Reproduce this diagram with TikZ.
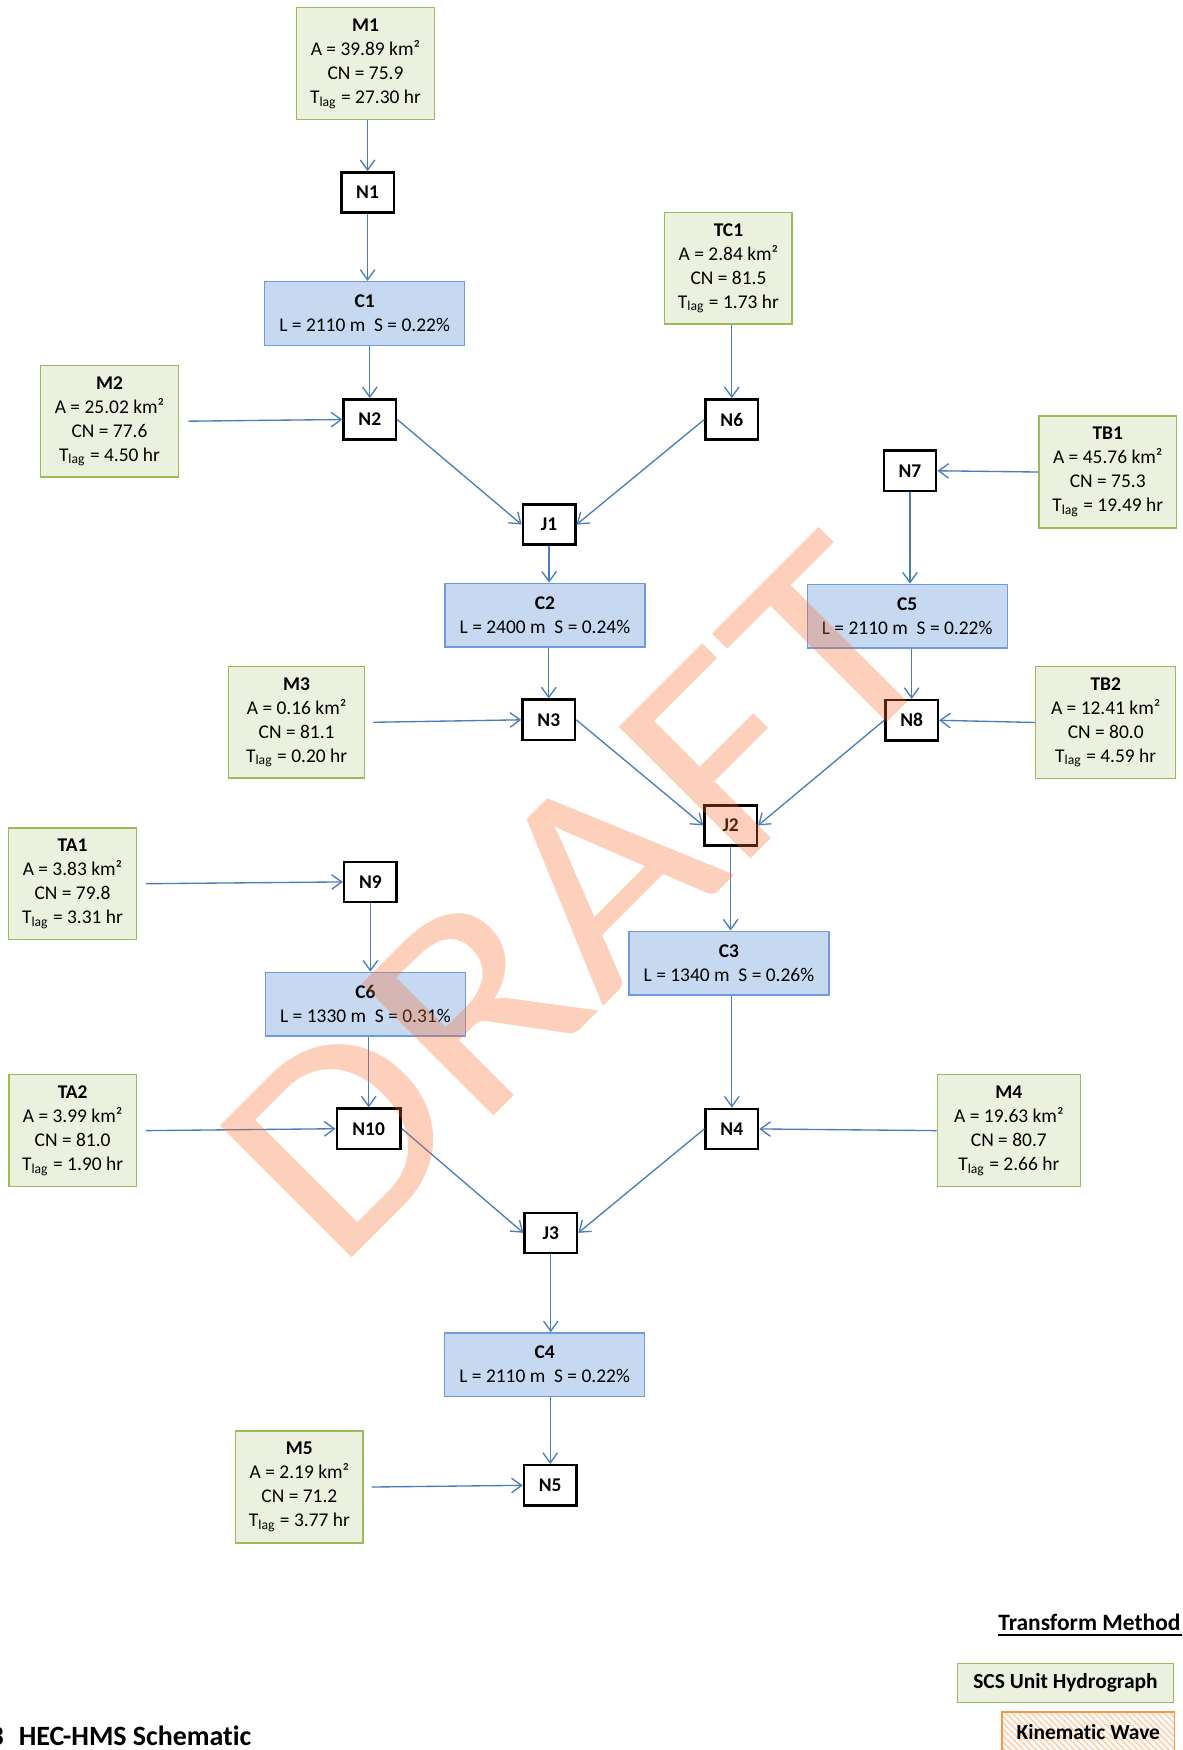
\documentclass[tikz,border=0pt]{standalone}
\usepackage{fontspec}
\setmainfont{Carlito}[Ligatures=NoCommon]
\usetikzlibrary{arrows.meta,patterns.meta,calc}
\definecolor{gfill}{HTML}{EBF1DE}
\definecolor{gdraw}{HTML}{9BBB59}
\definecolor{bfill}{HTML}{C6D9F1}
\definecolor{bdraw}{HTML}{6E9BDC}
\definecolor{flowc}{HTML}{4A7EBB}
\definecolor{kdraw}{HTML}{F79646}
\definecolor{khatch}{HTML}{FBD3B3}
\definecolor{draftc}{RGB}{248,110,48}
\newcommand{\bodyfs}{\fontsize{8.7pt}{10.75pt}\selectfont}
\tikzset{
  sub/.style={draw=gdraw, fill=gfill, line width=0.6pt, align=center, inner sep=0pt, minimum height=50pt, font=\bodyfs},
  chan/.style={draw=bdraw, fill=bfill, line width=0.6pt, align=center, inner sep=0pt, minimum width=89.5pt, minimum height=28.5pt, font=\bodyfs},
  jn/.style={draw=black, fill=white, line width=1.1pt, inner sep=0pt, minimum width=23.5pt, minimum height=18pt, font=\bodyfs\bfseries},
  flow/.style={draw=flowc, line width=0.6pt, -{Straight Barb[length=4.5pt,width=6.5pt]}},
  legendbox/.style={inner sep=0pt, minimum height=17.5pt, font=\fontsize{9.6pt}{11pt}\selectfont\bfseries},
}
\begin{document}
\begin{tikzpicture}[x=0.5pt,y=-0.5pt]
\useasboundingbox (0,0) rectangle (1058,1566.4);
\clip (0,0) rectangle (1058,1566.4);

% sub-basins
\node[sub, minimum width=61.6pt] (M1) at (327.1,57) {\textbf{M1}\\A = 39.89 km²\\CN = 75.9\\T\textsubscript{lag} = 27.30 hr};
\node[sub, minimum width=57pt] (TC1) at (652,240) {\textbf{TC1}\\A = 2.84 km²\\CN = 81.5\\T\textsubscript{lag} = 1.73 hr};
\node[sub, minimum width=62pt] (M2) at (98,377) {\textbf{M2}\\A = 25.02 km²\\CN = 77.6\\T\textsubscript{lag} = 4.50 hr};
\node[sub, minimum width=61.5pt] (TB1) at (991.5,422.5) {\textbf{TB1}\\A = 45.76 km²\\CN = 75.3\\T\textsubscript{lag} = 19.49 hr};
\node[sub, minimum width=61pt] (M3) at (265.5,646.5) {\textbf{M3}\\A = 0.16 km²\\CN = 81.1\\T\textsubscript{lag} = 0.20 hr};
\node[sub, minimum width=62.7pt] (TB2) at (989.7,646.7) {\textbf{TB2}\\A = 12.41 km²\\CN = 80.0\\T\textsubscript{lag} = 4.59 hr};
\node[sub, minimum width=57.4pt] (TA1) at (64.9,791) {\textbf{TA1}\\A = 3.83 km²\\CN = 79.8\\T\textsubscript{lag} = 3.31 hr};
\node[sub, minimum width=57pt] (TA2) at (65,1012) {\textbf{TA2}\\A = 3.99 km²\\CN = 81.0\\T\textsubscript{lag} = 1.90 hr};
\node[sub, minimum width=64pt] (M4) at (903,1012) {\textbf{M4}\\A = 19.63 km²\\CN = 80.7\\T\textsubscript{lag} = 2.66 hr};
\node[sub, minimum width=57pt] (M5) at (268,1331) {\textbf{M5}\\A = 2.19 km²\\CN = 71.2\\T\textsubscript{lag} = 3.77 hr};

% channels
\node[chan] (C1) at (326.4,280.5) {\textbf{C1}\\L = 2110 m\ \ S = 0.22\%};
\node[chan] (C2) at (487.8,550.6) {\textbf{C2}\\L = 2400 m\ \ S = 0.24\%};
\node[chan] (C5) at (812,551.5) {\textbf{C5}\\L = 2110 m\ \ S = 0.22\%};
\node[chan] (C3) at (652.5,862) {\textbf{C3}\\L = 1340 m\ \ S = 0.26\%};
\node[chan] (C6) at (327.1,898.8) {\textbf{C6}\\L = 1330 m\ \ S = 0.31\%};
\node[chan] (C4) at (487.5,1221.5) {\textbf{C4}\\L = 2110 m\ \ S = 0.22\%};

% nodes / junctions
\node[jn] (N1) at (329,172.3) {N1};
\node[jn] (N2) at (331,375.5) {N2};
\node[jn] (N6) at (655,375.5) {N6};
\node[jn] (N7) at (814.5,421.4) {N7};
\node[jn] (J1) at (491.5,469.5) {J1};
\node[jn] (N3) at (491.2,644.3) {N3};
\node[jn] (N8) at (816,644.7) {N8};
\node[jn] (J2) at (654,738.8) {J2};
\node[jn] (N9) at (331.5,789.4) {N9};
\node[jn, minimum width=28.6pt] (N10) at (330,1010.3) {N10};
\node[jn] (N4) at (655,1010.5) {N4};
\node[jn] (J3) at (493,1103.5) {J3};
\node[jn] (N5) at (492.5,1329.5) {N5};

% connectors
\draw[flow] (M1.south -| N1.north) -- (N1.north);
\draw[flow] (N1.south) -- (N1.south |- C1.north);
\draw[flow] (C1.south -| N2.north) -- (N2.north);
\draw[flow] ($(M2.east)+(8,0)$) -- (N2.west);
\draw[flow] (TC1.south -| N6.north) -- (N6.north);
\draw[flow] (N2.east) -- (J1.west);
\draw[flow] (N6.west) -- (J1.east);
\draw[flow] (TB1.west) -- (N7.east);
\draw[flow] (N7.south) -- (N7.south |- C5.north);
\draw[flow] (J1.south) -- (J1.south |- C2.north);
\draw[flow] (C2.south -| N3.north) -- (N3.north);
\draw[flow] ($(M3.east)+(7,0)$) -- (N3.west);
\draw[flow] (C5.south -| N8.north) -- (N8.north);
\draw[flow] (TB2.west) -- (N8.east);
\draw[flow] (N3.east) -- (J2.west);
\draw[flow] (N8.west) -- (J2.east);
\draw[flow] (J2.south) -- (J2.south |- C3.north);
\draw[flow] ($(TA1.east)+(8,0)$) -- (N9.west);
\draw[flow] (N9.south) -- (N9.south |- C6.north);
\draw[flow] (C6.south -| N10.north) -- (N10.north);
\draw[flow] ($(TA2.east)+(8,0)$) -- (N10.west);
\draw[flow] (C3.south -| N4.north) -- (N4.north);
\draw[flow] (M4.west) -- (N4.east);
\draw[flow] (N10.east) -- (J3.west);
\draw[flow] (N4.west) -- (J3.east);
\draw[flow] (J3.south) -- (J3.south |- C4.north);
\draw[flow] (C4.south -| N5.north) -- (N5.north);
\draw[flow] ($(M5.east)+(7,0)$) -- (N5.west);

% legend
\node[font=\fontsize{10.5pt}{12pt}\selectfont\bfseries, anchor=base east, inner sep=0pt] (TM) at (1057,1459.5) {Transform Method};
\draw[line width=0.9pt] ([yshift=-1.8pt]TM.base west) -- ([yshift=-1.8pt,xshift=4pt]TM.base east);
\node[legendbox, draw=gdraw, fill=gfill, line width=0.6pt, minimum width=96.5pt] (scs) at (953.7,1506.2) {SCS Unit Hydrograph};
\node[legendbox, draw=kdraw, line width=0.7pt, minimum width=77pt,
      pattern={Lines[angle=-45,distance=2pt,line width=0.8pt]}, pattern color=khatch] (kw) at (974.1,1550.1) {};
\node[legendbox] (kwt) at (kw.center) {Kinematic Wave};

% caption
\node[font=\fontsize{12.5pt}{14pt}\selectfont\bfseries, anchor=base east, inner sep=0pt] (capnum) at (3.8,1562) {3};
\node[font=\fontsize{12.5pt}{14pt}\selectfont\bfseries, anchor=base west, inner sep=0pt] (cap) at (16.4,1562) {HEC-HMS Schematic};

% watermark
\node[font=\fontsize{130pt}{130pt}\selectfont, text=draftc, text opacity=0.32, anchor=base, inner sep=0pt, rotate=45, xscale=1.12] (draft) at (577.1,864) {DRAFT};
\end{tikzpicture}
\end{document}
